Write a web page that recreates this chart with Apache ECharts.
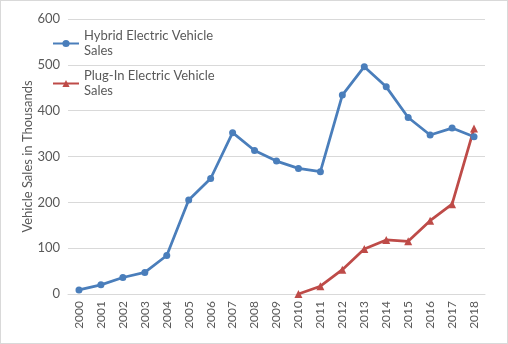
<!DOCTYPE html>
<html><head><meta charset="utf-8">
<script src="https://cdn.jsdelivr.net/npm/echarts@6/dist/echarts.min.js"></script>
<style>html,body{margin:0;padding:0;background:#fff}#c{width:508px;height:344px;box-sizing:border-box;border:1px solid #d9d9d9}</style>
</head><body><div id="c"></div>
<script>
const years = ['2000','2001','2002','2003','2004','2005','2006','2007','2008','2009','2010','2011','2012','2013','2014','2015','2016','2017','2018'];
const hybrid = [9,20,36,47,84,205,252,352,313,290,274,267,434,496,452,385,347,362,343];
const plugin = [null,null,null,null,null,null,null,null,null,null,0,17,53,98,118,115,160,196,361];
const yTicks = [0,100,200,300,400,500,600];
const chart = echarts.init(document.getElementById('c'));
const txt = '#595959';
const ff = 'Lato, Open Sans, sans-serif';
chart.setOption({
  animation:false,
  grid:{left:67,right:22,top:18,bottom:49,containLabel:false},
  legend:{
    orient:'vertical', left:51, top:28, padding:0, itemGap:11, itemWidth:26, itemHeight:9,
    textStyle:{color:txt,fontSize:13,fontFamily:ff,lineHeight:14.5},
    data:[{name:'Hybrid Electric Vehicle\nSales'},{name:'Plug-In Electric Vehicle\nSales'}]
  },
  xAxis:{type:'category',data:years,boundaryGap:true,
    axisLine:{lineStyle:{color:'#d9d9d9'}},axisTick:{show:false},
    axisLabel:{rotate:90,color:txt,fontSize:12,interval:0,margin:7,fontFamily:ff}},
  yAxis:{type:'value',min:0,max:600,interval:100,
    name:'Vehicle Sales in Thousands',nameLocation:'middle',nameGap:34,nameRotate:90,nameMoveOverlap:false,
    nameTextStyle:{color:txt,fontSize:13,fontFamily:ff},
    axisLine:{show:false},axisTick:{show:false},
    axisLabel:{color:txt,fontSize:13,margin:8,fontFamily:ff,
      formatter:v=>yTicks.includes(v)?String(v):''},
    splitLine:{lineStyle:{color:'#d9d9d9'}}},
  series:[
    {name:'Hybrid Electric Vehicle\nSales',type:'line',data:hybrid,symbol:'circle',symbolSize:7,
     itemStyle:{color:'#4a7ebb'},lineStyle:{color:'#4a7ebb',width:2.75}},
    {name:'Plug-In Electric Vehicle\nSales',type:'line',data:plugin,symbol:'triangle',symbolSize:8,
     itemStyle:{color:'#be4b48'},lineStyle:{color:'#be4b48',width:2.75}}
  ]
});
</script></body></html>
